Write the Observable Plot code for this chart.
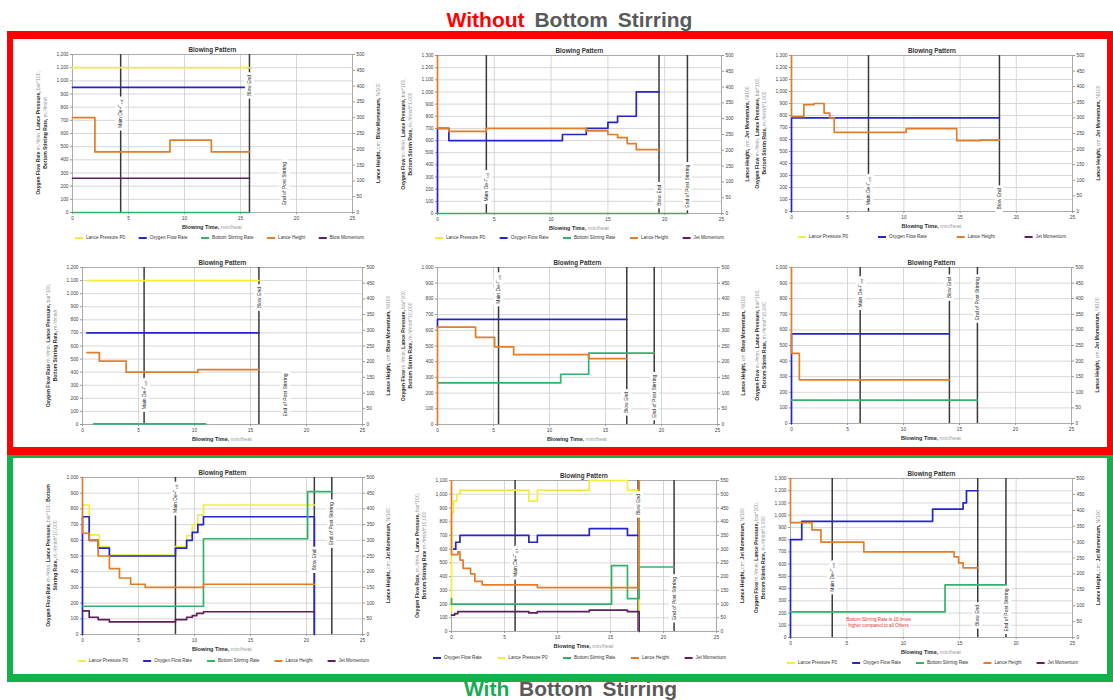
<!DOCTYPE html>
<html><head><meta charset="utf-8">
<script src="https://cdn.jsdelivr.net/npm/d3@7"></script>
<script src="https://cdn.jsdelivr.net/npm/@observablehq/plot@0.6"></script>
<style>
body{margin:0;background:#fff;font-family:"Liberation Sans",Arial,sans-serif;}
#root{position:relative;width:1113px;height:700px;overflow:hidden;background:#fff;}
.heading{position:absolute;width:1113px;text-align:center;font-weight:bold;font-size:21px;line-height:24px;color:#5a5a5a;word-spacing:4px;white-space:nowrap;}
.box{position:absolute;box-sizing:border-box;}
</style></head>
<body><div id="root"></div>
<script>
// ---------- shared ----------
const timeTicks = [0, 5, 10, 15, 20, 25];
const eventLabels = ["Main De-C_crit", "Blow End", "End of Post Stirring"];
const colors = {pressure: "#f2ee3e", oxygen: "#2626c6", stirring: "#34b26c", lance: "#e27d2b", momentum: "#5e1f5c"};

// ---------- panel 1 (without stirring) ----------
const p1Pressure = [[0, 1100], [15.8, 1100]];
const p1Oxygen = [[0, 950], [15.8, 950]];
const p1Stirring = [[0, 0], [15.8, 0]];
const p1Lance = [[0, 720], [2, 460], [8.7, 550], [12.4, 460], [15.8, 460]];
const p1Momentum = [[0, 260], [15.8, 260]];
const p1Events = [4.3, 15.8, 18.9];

// ---------- panel 2 ----------
const p2Oxygen = [[0, 0], [0, 700], [1, 600], [11, 650], [13.1, 700], [15, 750], [15.85, 800], [17.5, 1000], [19.5, 1000]];
const p2Stirring = [[0, 0], [22, 0]];
const p2Lance = [[0, 1300], [0, 700], [1, 675], [4.3, 700], [13.1, 680], [15, 650], [15.85, 625], [16.7, 575], [17.5, 525], [19.5, 525]];
const p2Events = [4.3, 19.5, 22.0];

// ---------- panel 3 ----------
const p3Oxygen = [[0, 0], [0, 780], [18.5, 780]];
const p3Lance = [[0, 1300], [0, 790], [1.1, 890], [2, 900], [2.9, 820], [3.4, 780], [3.8, 660], [10.2, 690], [14.7, 590], [16.8, 595], [18.5, 595]];
const p3Events = [6.85, 18.5];

// ---------- panel 4 ----------
const p4Pressure = [[0.4, 1100], [15.75, 1100]];
const p4Oxygen = [[0.4, 700], [15.75, 700]];
const p4Stirring = [[1, 5], [11, 5]];
const p4Lance = [[0.4, 550], [1.5, 485], [3.9, 400], [10.3, 420], [15.75, 420]];
const p4Events = [5.5, 15.75, 18.1];

// ---------- panel 5 ----------
const p5Oxygen = [[0, 620], [0, 670], [16.9, 670]];
const p5Stirring = [[0, 265], [11, 320], [13.5, 455], [19.35, 455]];
const p5Lance = [[0, 0], [0, 620], [3.4, 555], [5.1, 495], [6.8, 445], [13.5, 420], [16.9, 420]];
const p5Events = [5.45, 16.9, 19.35];

// ---------- panel 6 ----------
const p6Oxygen = [[0, 0], [0, 575], [14.1, 575]];
const p6Stirring = [[0, 150], [16.6, 150]];
const p6Lance = [[0, 1000], [0, 450], [0.7, 280], [14.1, 280]];
const p6Events = [6.13, 14.1, 16.6];

// ---------- panel 7 (with stirring) ----------
const p7Pressure = [[0, 825], [0.6, 635], [1.5, 560], [2.4, 505], [8.3, 560], [9.3, 630], [9.8, 700], [10.3, 760], [10.8, 825], [20.7, 825]];
const p7Oxygen = [[0, 0], [0, 750], [0.6, 600], [1.4, 550], [2.4, 500], [8.3, 550], [9.3, 600], [9.8, 650], [10.3, 700], [10.8, 750], [20.7, 750], [20.7, 0]];
const p7Stirring = [[0, 180], [10.8, 610], [20.1, 910], [22.26, 910]];
const p7Lance = [[0, 1000], [0, 645], [0.6, 600], [1.4, 500], [2.4, 420], [3.3, 360], [4.3, 320], [5.6, 300], [10.8, 320], [20.7, 320]];
const p7Momentum = [[0, 150], [0.6, 110], [1.4, 95], [2.4, 80], [8.3, 95], [9.3, 110], [9.8, 120], [10.2, 135], [10.8, 145], [20.7, 145]];
const p7Events = [8.3, 20.7, 22.26];

// ---------- panel 8 ----------
const p8Oxygen = [[0.2, 600], [0.4, 650], [0.8, 700], [7.3, 650], [8.1, 700], [13, 750], [16.6, 700], [17.7, 700]];
const p8Pressure = [[0, 150], [0, 870], [0.2, 950], [0.5, 1000], [0.8, 1030], [7.3, 950], [8.1, 1030], [13, 1100], [16.6, 1030], [17.7, 1030], [17.7, 0]];
const p8Stirring = [[0, 240], [0, 200], [15.1, 480], [16.6, 240], [17.7, 470], [21.0, 470]];
const p8Lance = [[0, 1100], [0, 560], [0.6, 580], [0.8, 520], [1.1, 460], [1.8, 420], [2.2, 365], [2.9, 340], [8.1, 320], [17.7, 320], [17.7, 1100]];
const p8Momentum = [[0, 120], [0.3, 130], [0.6, 145], [7.3, 135], [8.1, 145], [13, 155], [16.6, 145], [17.7, 145], [17.7, 0]];
const p8Events = [6.0, 17.6, 21.0];

// ---------- panel 9 ----------
const p9Oxygen = [[0, 0], [0, 800], [1, 950], [12.6, 1050], [15.3, 1100], [15.6, 1200], [16.6, 1200]];
const p9Stirring = [[0, 210], [13.7, 430], [19.1, 430]];
const p9Lance = [[0, 1300], [0, 940], [1.9, 880], [2.7, 780], [6.5, 700], [14.5, 660], [14.9, 610], [15.3, 570], [16.6, 570]];
const p9Events = [3.7, 16.6, 19.1];
const p9Note = "Bottom Stirring Rate is 10 times\nhigher compared to all Others";

// ---------- axis titles ----------
const leftLabelA = ["Oxygen Flow Rate {mₙ³/min,} Lance Pressure, {bar*100,}", "Bottom Stirring Rate, {mₙ³/min/t}"];
const leftLabelB = ["Oxygen Flow {mₙ³/min,} Lance Pressure, {bar*100,}", "Bottom Stirrin Rate, {mₙ³/min/t*1,000}"];
const leftLabelC = ["Oxygen Flow {mₙ³/min,} Lance Pressure, {bar*100,}", "Bottom Stirrin Rate, {mₙ³/min/t*10,000}"];
const leftLabelD = ["Oxygen Flow Rate {mₙ³/min,} Lance Pressure, {bar*100,} Bottom", "Stirring Rate, {mₙ³/min/t*10,000}"];
const leftLabelE = ["Oxygen Flow Rate, {mₙ³/min,} Lance Pressure, {bar*100,}", "Bottom Stirring Rate {mₙ³/min/t*10,000}"];
const rightBlow = "Lance Height, {cm;} Blow Momentum, {N/100}";
const rightJet = "Lance Height, {cm;} Jet Momentum, {N/100}";
const xTitle = "Blowing Time, {min/heat}";

const L5 = [["pressure", "Lance Pressure P0"], ["oxygen", "Oxygen Flow Rate"], ["stirring", "Bottom Stirring Rate"], ["lance", "Lance Height"]];

// ---------- layout ----------
const panels = [
  {rect: [72, 352, 54, 212], yMax: 1200, rMax: 500,
   series: [["pressure", p1Pressure], ["oxygen", p1Oxygen], ["stirring", p1Stirring], ["lance", p1Lance], ["momentum", p1Momentum]],
   events: p1Events, eventY: [750, 965, 220], eventLine: [1, 1, 0],
   legend: [...L5, ["momentum", "Blow Momentum"]], legendSpan: [75, 364], legendY: 238, left: leftLabelA, right: rightBlow},
  {rect: [437, 721, 55, 213], yMax: 1300, rMax: 500,
   series: [["oxygen", p2Oxygen], ["stirring", p2Stirring], ["lance", p2Lance]],
   events: p2Events, eventY: [215, 150, 225], eventLine: [1, 1, 1],
   legend: [...L5, ["momentum", "Jet Momentum"]], legendSpan: [435, 724], legendY: 238, left: leftLabelB, right: rightJet},
  {rect: [791, 1072, 55, 211], yMax: 1300, rMax: 500,
   series: [["oxygen", p3Oxygen], ["lance", p3Lance]],
   events: p3Events, eventY: [170, 105], eventLine: [1, 1],
   legend: [["pressure", "Lance Pressure P0"], ["oxygen", "Oxygen Flow Rate"], ["lance", "Lance Height"], ["momentum", "Jet Momentum"]],
   legendSpan: [798, 1066], legendY: 237, left: leftLabelB, right: rightJet},
  {rect: [82, 362, 267, 424], yMax: 1200, rMax: 500,
   series: [["pressure", p4Pressure], ["oxygen", p4Oxygen], ["stirring", p4Stirring], ["lance", p4Lance]],
   events: p4Events, eventY: [225, 970, 225], eventLine: [1, 1, 0],
   legend: null, left: leftLabelA, right: rightBlow},
  {rect: [437, 717, 267, 424], yMax: 1000, rMax: 500,
   series: [["oxygen", p5Oxygen], ["stirring", p5Stirring], ["lance", p5Lance]],
   events: p5Events, eventY: [860, 140, 180], eventLine: [1, 1, 1],
   legend: null, left: leftLabelC, right: rightBlow},
  {rect: [791, 1071, 267, 423], yMax: 1000, rMax: 500,
   series: [["oxygen", p6Oxygen], ["stirring", p6Stirring], ["lance", p6Lance]],
   events: p6Events, eventY: [835, 870, 800], eventLine: [1, 1, 1],
   legend: null, left: leftLabelC, right: rightJet},
  {rect: [82, 362, 477, 634], yMax: 1000, rMax: 500,
   series: [["pressure", p7Pressure], ["oxygen", p7Oxygen], ["stirring", p7Stirring], ["lance", p7Lance], ["momentum", p7Momentum]],
   events: p7Events, eventY: [865, 475, 705], eventLine: [1, 1, 1],
   legend: [...L5, ["momentum", "Jet Momentum"]], legendSpan: [78, 369], legendY: 661, left: leftLabelD, right: rightJet},
  {rect: [451, 716, 480, 631], yMax: 1100, rMax: 550,
   series: [["pressure", p8Pressure], ["oxygen", p8Oxygen], ["stirring", p8Stirring], ["lance", p8Lance], ["momentum", p8Momentum]],
   events: p8Events, eventY: [500, 925, 240], eventLine: [1, 1, 1],
   legend: [["oxygen", "Oxygen Flow Rate"], ["pressure", "Lance Pressure P0"], ["stirring", "Bottom Stirring Rate"], ["lance", "Lance Height"], ["momentum", "Jet Momentum"]],
   legendSpan: [433, 726], legendY: 658, left: leftLabelE, right: rightJet},
  {rect: [790, 1072, 478, 637], yMax: 1300, rMax: 500,
   series: [["oxygen", p9Oxygen], ["stirring", p9Stirring], ["lance", p9Lance]],
   events: p9Events, eventY: [490, 180, 225], eventLine: [1, 1, 1],
   legend: [...L5, ["momentum", "Jet Momentum"]], legendSpan: [787, 1078], legendY: 663, left: leftLabelB, right: rightJet,
   note: {t: 7.8, v: 127, s: p9Note}}
];

const FONT = "'Liberation Sans', Arial, 'DejaVu Sans', sans-serif";
const root = document.getElementById("root");
const fmtComma = d3.format(",");

function richText(sel, x, y, str, size, rotate) {
  const t = sel.append("text")
    .attr("transform", `translate(${x},${y})` + (rotate ? " rotate(-90)" : ""))
    .attr("text-anchor", "middle").attr("dominant-baseline", "middle")
    .attr("font-size", size).attr("font-family", FONT);
  str.split(/(\{[^}]*\})/).filter(s => s).forEach(s => {
    const unit = s.startsWith("{");
    t.append("tspan").text(unit ? s.slice(1, -1) : s)
      .attr("fill", unit ? "#9a9a9a" : "#2b2b2b")
      .attr("font-weight", unit ? "normal" : "bold");
  });
  return t;
}

panels.forEach(p => {
  const [x0, x1, y0, y1] = p.rect;
  const mL = 62, mR = 42, mT = 22, mB = 34;
  const pw = x1 - x0, ph = y1 - y0, w = pw + mL + mR, h = ph + mT + mB;
  const yTicks = d3.range(0, p.yMax + 1, 100);
  const rTicks = d3.range(0, p.rMax + 1, 50).map(v => v * p.yMax / p.rMax);
  const evData = p.events.map((t, i) => ({t, label: eventLabels[i], y: p.eventY[i], line: p.eventLine[i]}));
  const marks = [
    Plot.gridX({ticks: timeTicks, stroke: "#cdcdcd", strokeOpacity: 1, strokeWidth: 0.8}),
    Plot.gridY({ticks: yTicks, stroke: "#cdcdcd", strokeOpacity: 1, strokeWidth: 0.8}),
    Plot.frame({stroke: "#a0a0a0", strokeWidth: 0.8}),
    Plot.axisX({ticks: timeTicks, tickSize: 2, tickPadding: 2, label: null, fontSize: 4.8, stroke: "#999", tickFormat: d => String(d)}),
    Plot.axisY({ticks: yTicks, anchor: "left", tickSize: 2, tickPadding: 2, tickFormat: d => fmtComma(d), label: null, fontSize: 4.8, stroke: "#999"}),
    Plot.axisY({ticks: rTicks, anchor: "right", tickSize: 2, tickPadding: 2,
      tickFormat: d => fmtComma(Math.round(d * p.rMax / p.yMax)), label: null, fontSize: 4.8, stroke: "#999"}),
    Plot.ruleX(evData.filter(d => d.line), {x: "t", stroke: "#3a3a3a", strokeWidth: 1.5}),
    ...p.series.map(([k, data]) => Plot.line(data, {x: d => d[0], y: d => d[1], curve: "step-after", stroke: colors[k], strokeWidth: 1.7})),
    Plot.text(evData, {x: "t", y: "y", text: "label", rotate: -90, fontSize: 5, fill: "#222", stroke: "white", strokeWidth: 6}),
    Plot.text(["Blowing Pattern"], {text: d => d, frameAnchor: "top", dy: -7, fontSize: 6.3, fontWeight: "bold", fill: "#333"})
  ];
  if (p.note) marks.push(Plot.text([p.note], {x: "t", y: "v", text: "s", fill: "#e8322e", fontSize: 4.6, lineHeight: 1.35, stroke: "white", strokeWidth: 3}));
  const chart = Plot.plot({
    width: w, height: h, marginLeft: mL, marginRight: mR, marginTop: mT, marginBottom: mB,
    x: {domain: [0, 25]}, y: {domain: [0, p.yMax]},
    style: {background: "transparent", overflow: "visible", fontFamily: FONT, fontSize: "5px", color: "#444"},
    marks
  });
  const div = document.createElement("div");
  div.style.cssText = `position:absolute;left:${x0 - mL}px;top:${y0 - mT}px;width:${w}px;height:${h}px;`;
  div.append(chart);
  root.append(div);
  const svg = d3.select(chart);
  svg.selectAll("text").each(function () {
    if (this.textContent === "Main De-C_crit") {
      const t = d3.select(this);
      t.text("Main De-C");
      t.append("tspan").attr("font-size", "3.4px").attr("dy", "1").text("crit");
    }
  });
  richText(svg, mL + pw / 2, mT + ph + 16, xTitle, 5.5, false);
  p.left.forEach((line, i) => richText(svg, mL - 33 + i * 7, mT + ph / 2, line, 5, true));
  richText(svg, mL + pw + 27, mT + ph / 2, p.right, 5, true);
  if (p.legend) {
    const ly = p.legendY - (y0 - mT);
    const items = p.legend.map(([k, name]) => {
      const g = svg.append("g");
      g.append("line").attr("x1", 0).attr("x2", 8).attr("y1", 0).attr("y2", 0).attr("stroke", colors[k]).attr("stroke-width", 2);
      const t = g.append("text").attr("x", 11).attr("y", 0).attr("dominant-baseline", "middle")
        .attr("text-anchor", "start")
        .attr("font-size", 4.6).attr("font-family", FONT).attr("fill", "#333").text(name);
      return {g, width: 11 + t.node().getComputedTextLength()};
    });
    const span = p.legendSpan[1] - p.legendSpan[0];
    const total = d3.sum(items, d => d.width);
    const gap = (span - total) / (items.length - 1);
    let cx = p.legendSpan[0] - (x0 - mL);
    items.forEach(it => { it.g.attr("transform", `translate(${cx},${ly})`); cx += it.width + gap; });
  }
});

// headings and group frames
function addHeading(top, left, first, color) {
  const d = document.createElement("div");
  d.className = "heading";
  d.style.top = top + "px"; d.style.left = left + "px";
  const s = document.createElement("span"); s.style.color = color; s.textContent = first;
  d.append(s, document.createTextNode(" Bottom Stirring"));
  root.append(d);
}
addHeading(8, 13, "Without", "#ff0000");
addHeading(677, 14, "With", "#1aab52");

function addBox(left, top, width, height, color, bw) {
  const d = document.createElement("div");
  d.className = "box";
  d.style.cssText = `left:${left}px;top:${top}px;width:${width}px;height:${height}px;border-style:solid;border-color:${color};border-width:${bw};`;
  root.append(d);
}
addBox(7, 455, 1106, 227, "#14b04c", "3px 6px 8px 6px");
addBox(7, 31, 1106, 424, "#ff0000", "8px 6px 8px 6px");
</script></body></html>
